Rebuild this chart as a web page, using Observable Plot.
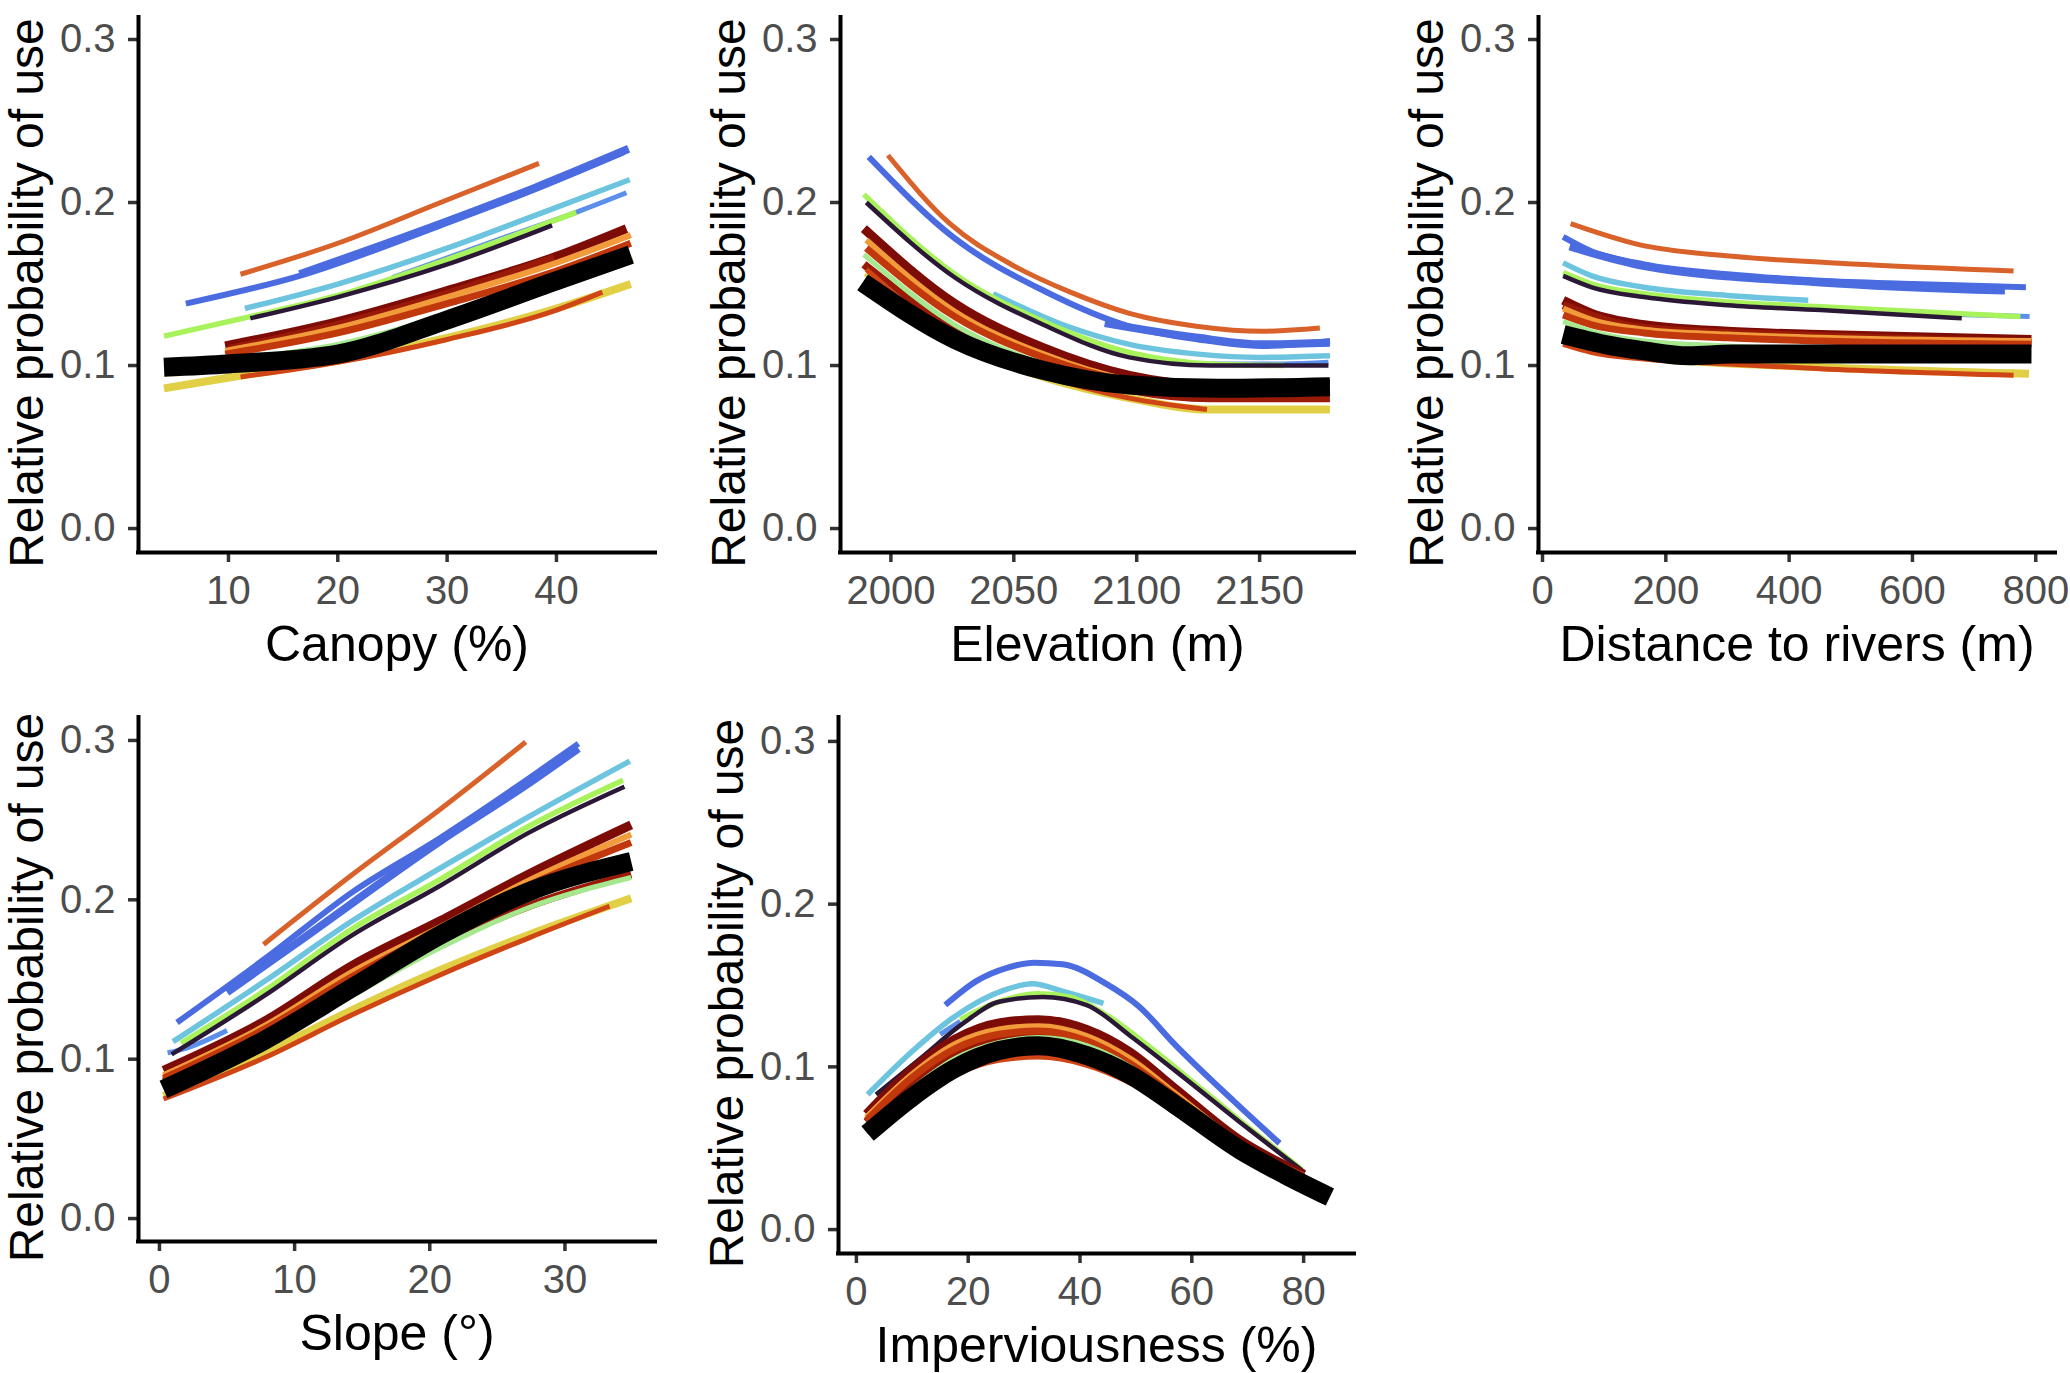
<!DOCTYPE html>
<html><head><meta charset="utf-8">
<script src="https://cdn.jsdelivr.net/npm/d3@7"></script>
<script src="https://cdn.jsdelivr.net/npm/@observablehq/plot@0.6"></script>
<style>
html,body{margin:0;padding:0;background:#fff;}
#root{position:relative;width:2070px;height:1373px;background:#fff;overflow:hidden;}
.panel{position:absolute;}
.panel svg{overflow:visible;max-width:none;}
</style></head><body><div id="root"></div>
<script>
// ---------- individuals (draw order), colours, line widths ----------
const individuals = ["ltblue","orangeTop","blue1","blue2","cyan","green","purple","darkred1","darkred2","orange","red","palegreen","yellow","orangeLow","pop"];
const lineColors  = ["#5C8FEA","#D9622B","#4A6CE0","#4A6CE0","#6CC4DF","#A8F25C","#2A1836","#7E0C06","#9A1A08","#F29B3A","#C1380C","#A6E88E","#E1D046","#D04515","#000000"];
const lineWidths  = [5, 5, 6, 8, 5.5, 5.5, 4.5, 9, 8, 6, 7, 5, 8, 5, 19];

// ---------- tick labels ----------
const yTicks = [0, 0.1, 0.2, 0.3];
const canopyTicks = [10, 20, 30, 40];
const elevationTicks = [2000, 2050, 2100, 2150];
const riverTicks = [0, 200, 400, 600, 800];
const slopeTicks = [0, 10, 20, 30];
const imperviousTicks = [0, 20, 40, 60, 80];

// ---------- series values: [individual, [[x, relative probability], ...]] ----------
const canopyCurves = [
  ["ltblue",    [[25,.154],[35,.178],[41.8,.194],[46.4,.206]]],
  ["orangeTop", [[11.1,.156],[20,.175],[29.4,.200],[38.4,.224]]],
  ["blue1",     [[6.1,.138],[16.5,.155],[29.4,.186],[38,.208],[46.2,.231]]],
  ["blue2",     [[16.5,.156],[29.4,.187],[38,.209],[46.6,.233]]],
  ["cyan",      [[11.5,.135],[20,.150],[30,.172],[38,.192],[46.7,.214]]],
  ["green",     [[4.1,.118],[12,.130],[20,.143],[30,.165],[41.8,.194]]],
  ["purple",    [[12,.129],[20,.142],[30,.162],[39.6,.186]]],
  ["darkred1",  [[9.7,.112],[20,.127],[30,.146],[40,.167],[46.4,.184]]],
  ["darkred2",  [[10,.110],[20,.125],[30,.144],[39.8,.166]]],
  ["orange",    [[9.7,.109],[20,.123],[30,.142],[40,.163],[46.8,.180]]],
  ["red",       [[9.7,.107],[20,.120],[30,.138],[40,.158],[46.8,.175]]],
  ["palegreen", [[4.1,.099],[12,.105],[20,.113],[30,.131],[40,.152],[47,.165]]],
  ["yellow",    [[4.1,.086],[11.3,.094],[20,.103],[30,.117],[40,.135],[46.8,.150]]],
  ["orangeLow", [[11.1,.093],[20,.102],[30,.116],[40,.134],[44.2,.145]]],
  ["pop",       [[4.1,.099],[10,.101],[20,.107],[30,.128],[40,.152],[46.8,.168]]]
];
const elevationCurves = [
  ["ltblue",    [[2130,.101],[2160,.101],[2178,.102]]],
  ["orangeTop", [[1998.8,.229],[2024,.187],[2049,.162],[2073,.145],[2097,.132],[2125,.124],[2151,.121],[2174.5,.123]]],
  ["blue1",     [[1991,.228],[2026,.178],[2062,.146],[2097,.124],[2125,.116],[2151,.112],[2178.6,.115]]],
  ["blue2",     [[2087,.126],[2125,.117],[2151,.113],[2178.6,.114]]],
  ["cyan",      [[2041.6,.144],[2070,.125],[2097,.113],[2125,.107],[2151,.105],[2178.6,.106]]],
  ["green",     [[1989,.205],[2026,.156],[2062,.127],[2097,.108],[2130,.101],[2160,.100]]],
  ["purple",    [[1990,.200],[2026,.154],[2062,.125],[2097,.105],[2130,.100],[2178,.100]]],
  ["darkred1",  [[1989,.184],[2026,.138],[2062,.111],[2097,.094],[2130,.088],[2178.6,.089]]],
  ["darkred2",  [[1989,.162],[2026,.122],[2062,.099],[2097,.085],[2130,.080],[2178.6,.080]]],
  ["orange",    [[1990,.177],[2026,.133],[2062,.107],[2097,.091],[2130,.086],[2178.6,.087]]],
  ["red",       [[1990,.172],[2026,.130],[2062,.105],[2097,.090],[2130,.085],[2178.6,.086]]],
  ["palegreen", [[1989,.168],[2026,.125],[2062,.101],[2097,.088],[2130,.084],[2178.6,.085]]],
  ["orangeLow", [[1990,.159],[2026,.116],[2062,.094],[2097,.080],[2128.6,.073]]],
  ["yellow",    [[1990,.157],[2026,.115],[2062,.093],[2097,.080],[2130,.073],[2178.6,.073]]],
  ["pop",       [[1988.5,.151],[2026,.116],[2062,.097],[2097,.088],[2133,.086],[2178.6,.087]]]
];
const riverCurves = [
  ["ltblue",    [[600,.132],[790,.130]]],
  ["orangeTop", [[45.6,.187],[158,.174],[308,.167],[522,.162],[764,.158]]],
  ["blue1",     [[33.5,.179],[80,.170],[165,.162],[300,.156],[451,.152],[600,.150],[784,.148]]],
  ["blue2",     [[44,.173],[165,.161],[451,.151],[750,.146]]],
  ["cyan",      [[33.5,.163],[80,.155],[165,.148],[300,.143],[431,.140]]],
  ["green",     [[33.5,.157],[80,.150],[165,.144],[300,.139],[451,.136],[775,.130]]],
  ["purple",    [[33.5,.155],[80,.148],[165,.142],[300,.137],[451,.134],[680,.129]]],
  ["darkred1",  [[33.5,.140],[80,.132],[165,.125],[300,.121],[451,.119],[793,.116]]],
  ["darkred2",  [[33.5,.137],[165,.123],[451,.118],[793,.114]]],
  ["orange",    [[33.5,.135],[80,.128],[165,.122],[300,.119],[451,.117],[793,.115]]],
  ["red",       [[33.5,.131],[80,.125],[165,.120],[300,.117],[451,.115],[793,.113]]],
  ["palegreen", [[33.5,.127],[80,.121],[165,.115],[300,.112],[451,.110],[793,.108]]],
  ["orangeLow", [[33.5,.113],[80,.108],[165,.104],[300,.101],[451,.098],[764,.094]]],
  ["yellow",    [[33.5,.114],[165,.105],[451,.099],[789,.095]]],
  ["pop",       [[33.5,.119],[100,.113],[165,.109],[237,.106],[308,.107],[451,.107],[793,.107]]]
];
const slopeCurves = [
  ["ltblue",    [[0.6,.104],[2,.107],[5,.118]]],
  ["orangeTop", [[7.7,.172],[14.3,.216],[20.8,.257],[27.1,.299]]],
  ["blue1",     [[1.3,.123],[7.8,.163],[14.3,.205],[20.8,.239],[27.3,.276],[31,.298]]],
  ["blue2",     [[5,.142],[10,.172],[20.8,.237],[27.3,.273],[31,.295]]],
  ["cyan",      [[1,.111],[7.8,.149],[14.3,.187],[20.8,.220],[27.3,.252],[34.8,.287]]],
  ["green",     [[1.6,.110],[7.8,.143],[14.3,.182],[20.8,.213],[27.3,.246],[34.3,.275]]],
  ["purple",    [[0.9,.103],[7.8,.140],[14.3,.178],[20.8,.209],[27.3,.242],[34.4,.271]]],
  ["darkred1",  [[0.3,.093],[7.8,.124],[14.3,.159],[20.8,.187],[27.3,.216],[34.9,.247]]],
  ["darkred2",  [[0.3,.086],[7.8,.113],[14.3,.143],[20.8,.172],[27.3,.196],[34.9,.216]]],
  ["orange",    [[0.3,.090],[7.8,.121],[14.3,.155],[20.8,.183],[27.3,.212],[34.9,.241]]],
  ["red",       [[0.3,.088],[7.8,.119],[14.3,.152],[20.8,.181],[27.3,.209],[34.9,.236]]],
  ["palegreen", [[0.3,.082],[7.8,.108],[14.3,.140],[20.8,.170],[27.3,.195],[34.9,.214]]],
  ["yellow",    [[0.3,.077],[7.8,.104],[14.3,.131],[20.8,.156],[27.3,.178],[34.9,.201]]],
  ["orangeLow", [[0.3,.075],[7.8,.101],[14.3,.128],[20.8,.153],[27.3,.176],[33.3,.196]]],
  ["pop",       [[0.3,.081],[7.8,.112],[14.3,.145],[20.8,.178],[27.3,.205],[34.9,.224]]]
];
const imperviousCurves = [
  ["ltblue",    [[15,.120],[18.6,.128]]],
  ["blue1",     [[15.9,.138],[21.6,.153],[27.1,.161],[31.8,.164],[36.9,.163],[44.7,.151],[50.6,.137],[56.9,.114],[67.8,.078],[75.7,.053]]],
  ["cyan",      [[2,.083],[9.8,.109],[17.6,.131],[26.3,.147],[31.4,.151],[37.3,.146],[44.2,.139]]],
  ["purple",    [[3.5,.083],[11.4,.105],[19.2,.127],[25.5,.140],[33.3,.143],[41.2,.138],[49,.119],[56.9,.098],[68.6,.066],[80.2,.035]]],
  ["green",     [[18.6,.129],[24.7,.139],[32.5,.145],[38,.143],[45.1,.131],[52.9,.111],[60.8,.089],[68.6,.067],[79.6,.037]]],
  ["darkred1",  [[1.8,.071],[9.8,.098],[17.6,.117],[25.5,.127],[32.5,.129],[41.2,.123],[49,.109],[56.9,.087],[68.6,.055],[80,.034]]],
  ["darkred2",  [[1.8,.066],[9.8,.091],[17.6,.109],[25.5,.118],[32.5,.120],[41.2,.114],[49,.100],[56.9,.080],[68.6,.051],[80,.032]]],
  ["orange",    [[1.8,.069],[9.8,.095],[17.6,.114],[25.5,.123],[32.5,.125],[41.2,.119],[49,.105],[56.9,.084],[68.6,.053],[80,.033]]],
  ["red",       [[1.8,.067],[9.8,.093],[17.6,.111],[25.5,.120],[32.5,.122],[41.2,.116],[49,.102],[56.9,.082],[68.6,.052],[80,.033]]],
  ["palegreen", [[1.8,.062],[9.8,.086],[17.6,.105],[25.5,.115],[32.5,.118],[41.2,.113],[49,.100],[56.9,.080],[68.6,.050]]],
  ["orangeLow", [[1.8,.060],[9.8,.079],[17.6,.095],[25.5,.104],[32.5,.106],[41.2,.101],[49,.090],[56.9,.073]]],
  ["pop",       [[2,.059],[9.8,.081],[17.6,.099],[25.5,.110],[32.5,.113],[41.2,.107],[49,.095],[56.9,.077],[68.6,.049],[76.5,.034],[84.7,.020]]]
];
const xTitles = ["Canopy (%)", "Elevation (m)", "Distance to rivers (m)", "Slope (°)", "Imperviousness (%)"];
const yTitle = "Relative probability of use";

// ---------- layout ----------
const FONT = "'Liberation Sans', Arial, Helvetica, sans-serif";
const panels = [
  {curves: canopyCurves,     ticks: canopyTicks,     title: xTitles[0], xDomain: [1.77, 49.06],    yDomain: [-0.0147, 0.3135], left: 0,    top: 0,   width: 690, height: 690, mL: 138, mR: 35, mT: 17, mB: 138},
  {curves: elevationCurves,  ticks: elevationTicks,  title: xTitles[1], xDomain: [1979.5, 2188.6], yDomain: [-0.0147, 0.3135], left: 690,  top: 0,   width: 690, height: 690, mL: 150, mR: 26, mT: 17, mB: 138},
  {curves: riverCurves,      ticks: riverTicks,      title: xTitles[2], xDomain: [-6.5, 832],      yDomain: [-0.0147, 0.3135], left: 1380, top: 0,   width: 690, height: 690, mL: 158, mR: 15, mT: 17, mB: 138},
  {curves: slopeCurves,      ticks: slopeTicks,      title: xTitles[3], xDomain: [-1.55, 36.7],    yDomain: [-0.0144, 0.3144], left: 0,    top: 690, width: 690, height: 683, mL: 138, mR: 35, mT: 27, mB: 132},
  {curves: imperviousCurves, ticks: imperviousTicks, title: xTitles[4], xDomain: [-3.2, 89.1],     yDomain: [-0.0147, 0.3147], left: 690,  top: 690, width: 690, height: 683, mL: 148, mR: 26, mT: 27, mB: 120}
];

const root = document.getElementById("root");
for (const p of panels) {
  const ordered = p.curves.slice().sort((a, b) => individuals.indexOf(a[0]) - individuals.indexOf(b[0]));
  const marks = ordered.map(([id, pts]) => {
    const k = individuals.indexOf(id);
    return Plot.line(pts, {x: d => d[0], y: d => d[1], stroke: lineColors[k], strokeWidth: lineWidths[k], curve: "monotone-x", strokeLinecap: "butt", strokeLinejoin: "round"});
  });
  marks.push(
    Plot.axisX({ticks: p.ticks, tickSize: 10, tickPadding: 13, fontSize: 40, color: "#4d4d4d", stroke: "#333333", strokeWidth: 3.5, label: null, tickFormat: d3.format("d")}),
    Plot.axisY({ticks: yTicks, tickSize: 10, tickPadding: 13, fontSize: 40, color: "#4d4d4d", stroke: "#333333", strokeWidth: 3.5, label: null, tickFormat: d3.format(".1f")}),
    Plot.ruleX([p.xDomain[0]], {stroke: "black", strokeWidth: 4, strokeLinecap: "square"}),
    Plot.ruleY([p.yDomain[0]], {stroke: "black", strokeWidth: 4, strokeLinecap: "square"}),
    Plot.text([p.title], {text: d => d, frameAnchor: "bottom", dy: 108, lineAnchor: "bottom", fontSize: 50, fill: "black"}),
    Plot.text([yTitle], {text: d => d, frameAnchor: "left", rotate: -90, dx: -96, dy: 8, lineAnchor: "bottom", textAnchor: "middle", fontSize: 48, fill: "black"})
  );
  const svg = Plot.plot({
    width: p.width, height: p.height,
    marginLeft: p.mL, marginRight: p.mR, marginTop: p.mT, marginBottom: p.mB,
    x: {domain: p.xDomain},
    y: {domain: p.yDomain},
    style: {fontFamily: FONT, background: "white", overflow: "visible"},
    marks
  });
  const div = document.createElement("div");
  div.className = "panel";
  div.style.left = p.left + "px";
  div.style.top = p.top + "px";
  div.appendChild(svg);
  root.appendChild(div);
}
</script></body></html>
